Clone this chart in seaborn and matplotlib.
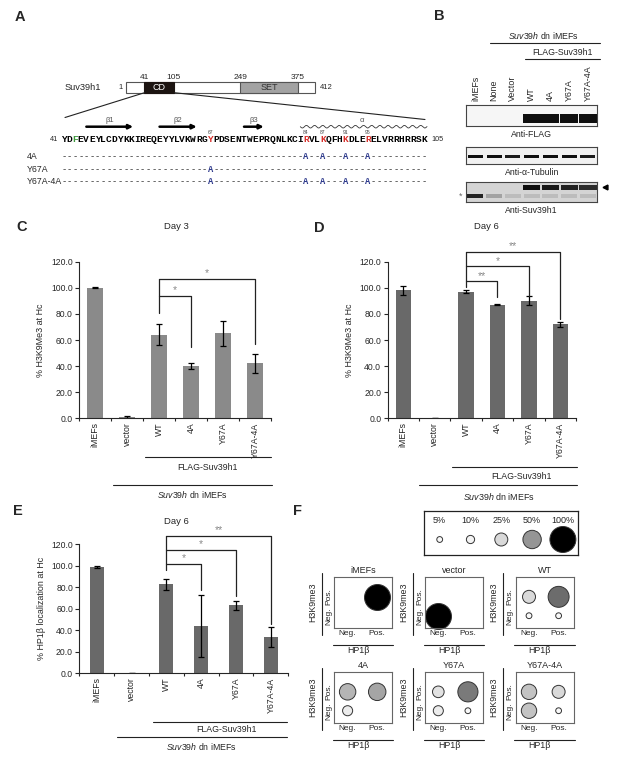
import numpy as np
import pandas as pd
import matplotlib
matplotlib.use("Agg")
import matplotlib.pyplot as plt
import seaborn as sns

# ---------------- values ----------------
groups = ["iMEFs", "vector", "WT", "4A", "Y67A", "Y67A-4A"]

h3k9_day3 = [100.0, 0.8, 64.0, 40.0, 65.0, 42.0]
h3k9_day3_err = [0.3, 0.8, 8.0, 2.0, 9.5, 7.0]
h3k9_day6 = [98.0, 0.0, 97.0, 87.0, 90.0, 72.0]
h3k9_day6_err = [3.5, 0.0, 1.0, 0.5, 3.5, 2.0]
hp1_day6 = [99.0, 0.0, 82.5, 44.0, 63.0, 33.5]
hp1_day6_err = [1.0, 0.0, 5.4, 28.5, 4.0, 9.3]

# western blot lanes and band strength (0 = no band)
lanes = ["iMEFs", "None", "Vector", "WT", "4A", "Y67A", "Y67A-4A"]
flag_band = [0, 0, 0, 1.0, 1.0, 1.0, 1.0]
tubulin_band = [1.0, 1.0, 0.95, 1.0, 1.0, 1.0, 0.95]
suv_band = [0, 0, 0, 1.0, 0.95, 0.9, 0.85]
suv_lower_band = [0.9, 0.25, 0.12, 0.12, 0.12, 0.12, 0.12]

# Suv39h1 domain map
protein_len = 412
cd_domain = (41, 105)
set_domain = (249, 375)

# chromodomain sequence, residues 41-105
cd_seq = "YDFEVEYLCDYKKIREQEYYLVKWRGYPDSENTWEPRQNLKCIRVLKQFHKDLERELVRRHRRSK"
seq_start = 41
red_sites = [67, 84, 87, 91, 95]
green_sites = [43]
strands = [("β1", 45, 53.3), ("β2", 58, 64.6), ("β3", 73, 76.5)]
helix = (83, 105.5)
mutants = ["4A", "Y67A", "Y67A-4A"]
mutant_sites = [[84, 87, 91, 95], [67], [67, 84, 87, 91, 95]]

# panel F: % of cells in each H3K9me3 x HP1b class
dot_groups = ["iMEFs", "vector", "WT", "4A", "Y67A", "Y67A-4A"]
pct_h3neg_hp1neg = [0, 100, 5, 15, 15, 35]
pct_h3neg_hp1pos = [0, 0, 5, 0, 5, 5]
pct_h3pos_hp1neg = [0, 0, 25, 40, 20, 35]
pct_h3pos_hp1pos = [100, 0, 65, 45, 60, 25]
legend_pct = [5, 10, 25, 50, 100]

# ---------------- style ----------------
sns.set_style("ticks")
plt.rcParams["font.family"] = ["Liberation Sans", "DejaVu Sans"]
plt.rcParams["mathtext.fontset"] = "custom"
plt.rcParams["mathtext.rm"] = "Liberation Sans"
plt.rcParams["mathtext.it"] = "Liberation Sans:italic"
plt.rcParams["axes.linewidth"] = 0.8

SUV_DN = r"$\mathit{Suv39h}$ dn iMEFs"
LINE = "#222222"
W, H = 617, 765
fig = plt.figure(figsize=(W / 100, H / 100), dpi=100)


def px_axes(l, t, r, b):
    # axes from pixel box (left, top, right, bottom)
    return fig.add_axes([l / W, 1 - b / H, (r - l) / W, (b - t) / H])


# overlay in pixel coordinates for labels and guide lines
ov = px_axes(0, 0, W, H)
ov.set_xlim(0, W)
ov.set_ylim(H, 0)
ov.axis("off")
ov.set_zorder(10)


def hline(x0, x1, y, lw=0.8, color=LINE):
    ov.plot([x0, x1], [y, y], color=color, lw=lw)


for lab, x, y in [("A", 20, 17), ("B", 439, 16), ("C", 22, 227),
                  ("D", 319, 228), ("E", 18, 511), ("F", 298, 511)]:
    ov.text(x, y, lab, fontsize=10.5, fontweight="bold", ha="center", va="center")

# ---------------- panel A ----------------
ax_dom = px_axes(126, 81.7, 315, 92.7)
ax_dom.set_xlim(1, protein_len)
ax_dom.set_ylim(0, 1)
ax_dom.axis("off")
ax_dom.barh(0.5, protein_len - 1, left=1, height=1, color="white",
            edgecolor="#555555", lw=0.8, clip_on=False)
ax_dom.barh(0.5, cd_domain[1] - cd_domain[0], left=cd_domain[0], height=1,
            color="#1c1411", edgecolor="#1c1411", lw=0.8, clip_on=False)
ax_dom.barh(0.5, set_domain[1] - set_domain[0], left=set_domain[0], height=1,
            color="#a3a3a3", edgecolor="#555555", lw=0.8, clip_on=False)
ax_dom.text(np.mean(cd_domain), 0.45, "CD", color="white", ha="center", va="center", fontsize=6.5)
ax_dom.text(np.mean(set_domain), 0.45, "SET", color="#333333", ha="center", va="center", fontsize=6.5)
for v in [cd_domain[0], cd_domain[1], set_domain[0], set_domain[1]]:
    ax_dom.text(v, 1.08, str(v), ha="center", va="bottom", fontsize=6)
ax_dom.text(-6, 0.5, "1", ha="right", va="center", fontsize=5.5)
ax_dom.text(protein_len + 10, 0.5, str(protein_len), ha="left", va="center", fontsize=5.5)
ov.text(101, 87.5, "Suv39h1", ha="right", va="center", fontsize=6.7)
ov.plot([144.5, 65], [92.7, 117.5], color=LINE, lw=0.8)
ov.plot([174.3, 425], [92.7, 119.5], color=LINE, lw=0.8)

ax_seq = px_axes(61, 112, 427, 190)
ax_seq.set_xlim(seq_start - 0.5, seq_start + len(cd_seq) - 0.5)
ax_seq.set_ylim(190, 112)
ax_seq.axis("off")
seq_y = 139
for i, aa in enumerate(cd_seq):
    pos = seq_start + i
    col = "#d9302b" if pos in red_sites else ("#3d9a3d" if pos in green_sites else "black")
    ax_seq.text(pos, seq_y, aa, ha="center", va="center", color=col,
                fontsize=6.8, family="Liberation Mono", fontweight="bold")
for pos in red_sites:
    ax_seq.text(pos, 132.6, str(pos), ha="center", va="center", fontsize=3.6, color="#444444")
for name, a, b in strands:
    ax_seq.annotate("", xy=(b, 126.7), xytext=(a, 126.7),
                    arrowprops=dict(arrowstyle="-|>", lw=1.8, color="black", mutation_scale=6,
                                    shrinkA=0, shrinkB=0))
    ax_seq.text((a + b) / 2, 120.5, name, ha="center", va="center", fontsize=5.5, color="#555555")
hx = np.linspace(helix[0], helix[1], 400)
ax_seq.plot(hx, 126.7 + 1.3 * np.sin(2 * np.pi * (hx - helix[0]) / 1.45), color="#333333", lw=0.6,
            clip_on=False)
ax_seq.text(94, 120.5, "α", ha="center", va="center", fontsize=5.5, color="#555555")
ov.text(54, seq_y, "41", ha="center", va="center", fontsize=5.2)
ov.text(437, seq_y, "105", ha="center", va="center", fontsize=5.2)

for row, (name, sites) in enumerate(zip(mutants, mutant_sites)):
    y = [156.7, 169.3, 181.7][row]
    ov.text(27, y, name, ha="left", va="center", fontsize=6.3)
    for i in range(len(cd_seq)):
        pos = seq_start + i
        if pos in sites:
            ax_seq.text(pos, y, "A", ha="center", va="center", color="#2e3a8c",
                        fontsize=6.3, family="Liberation Mono", fontweight="bold")
        else:
            ax_seq.text(pos, y, "-", ha="center", va="center", color="#333333",
                        fontsize=6.3, family="Liberation Mono")

# ---------------- panel B ----------------
ov.text(543, 35, SUV_DN, ha="center", va="center", fontsize=6.3)
hline(490, 600, 42.7)
ov.text(562.7, 52.7, "FLAG-Suv39h1", ha="center", va="center", fontsize=6.3)
hline(525, 600, 59.3)

blots = [
    ("Anti-FLAG", (105, 126), "#f6f6f6", [(flag_band, 0.37, 0.42, 0.96)]),
    ("Anti-α-Tubulin", (147.3, 164), "#f1f1f1", [(tubulin_band, 0.44, 0.22, 0.8)]),
    ("Anti-Suv39h1", (181.7, 202.3), "#d4d4d4", [(suv_band, 0.73, 0.22, 0.92),
                                                 (suv_lower_band, 0.3, 0.22, 0.85)]),
]
for k, (title, (t, b), face, bands) in enumerate(blots):
    ax = px_axes(466, t, 597.3, b)
    ax.set_facecolor(face)
    ax.set_xlim(-0.5, len(lanes) - 0.5)
    ax.set_ylim(0, 1)
    for spine in ax.spines.values():
        spine.set_visible(True)
        spine.set_color("#444444")
        spine.set_linewidth(0.8)
    for vals, center, height, width in bands:
        cols = [(0.06, 0.06, 0.06, v) for v in vals]
        ax.bar(range(len(lanes)), height, bottom=center - height / 2, width=width,
               color=cols, edgecolor="none", linewidth=0)
    ax.set_yticks([])
    if k == 0:
        ax.xaxis.tick_top()
        ax.set_xticks(range(len(lanes)))
        ax.set_xticklabels(lanes, rotation=90, fontsize=6.4)
        ax.tick_params(axis="x", length=0, pad=3)
    else:
        ax.set_xticks([])
    ov.text(531.7, b + 8.5, title, ha="center", va="center", fontsize=6.3)
ov.plot([604.5], [186.5], marker="<", color="black", markersize=3.5)
ov.text(461, 196.5, "*", ha="center", va="center", fontsize=6.5, color="#666666")

# ---------------- panels C, D, E ----------------


def bar_panel(ax, vals, errs, color, width, ylabel):
    sns.barplot(x=groups, y=vals, color=color, width=width, saturation=1,
                errorbar=None, linewidth=0, ax=ax)
    ax.errorbar(range(len(groups)), vals, yerr=errs, fmt="none", ecolor="black",
                elinewidth=0.9, capsize=2.2, capthick=0.9)
    ax.set_xlim(-0.5, len(groups) - 0.5)
    ax.set_ylim(0, 120)
    ax.set_yticks(range(0, 121, 20))
    ax.set_yticklabels([f"{v:.1f}" for v in range(0, 121, 20)])
    ax.set_xticks(np.arange(-0.5, len(groups), 1), minor=True)
    sns.despine(ax=ax)
    ax.tick_params(axis="x", which="major", length=0, labelrotation=90, labelsize=6.3, pad=3)
    ax.tick_params(axis="x", which="minor", length=2, width=0.8)
    ax.tick_params(axis="y", length=3, width=0.8, labelsize=6.2, pad=1.5)
    ax.set_xlabel("")
    ax.set_ylabel(ylabel, fontsize=6.4, labelpad=4)


def sig_brackets(ax, base, base_low, marks):
    top = max(m[1] for m in marks)
    ax.plot([base, base], [base_low, top], color=LINE, lw=0.9, clip_on=False)
    for idx, h, low, star in marks:
        ax.plot([base, idx, idx], [h, h, low], color=LINE, lw=0.9, clip_on=False)
        ax.text((base + idx) / 2, h + 0.5, star, ha="center", va="bottom",
                color="#888888", fontsize=7.5, clip_on=False)


# C
ax_c = px_axes(79, 261.7, 271, 418.3)
bar_panel(ax_c, h3k9_day3, h3k9_day3_err, "#8a8a8a", 0.47, "% H3K9Me3 at Hc")
sig_brackets(ax_c, 2, 80.5, [(3, 94, 55, "*"), (5, 107, 57, "*")])
ov.text(176.7, 226.7, "Day 3", ha="center", va="center", fontsize=6.8)
hline(145, 270.7, 456.7)
ov.text(208, 467, "FLAG-Suv39h1", ha="center", va="center", fontsize=6.3)
hline(113, 272, 485)
ov.text(192, 494.5, SUV_DN, ha="center", va="center", fontsize=6.3)

# D (its group caption sits right above panel F)
ax_d = px_axes(387.5, 261.7, 576, 418.3)
bar_panel(ax_d, h3k9_day6, h3k9_day6_err, "#696969", 0.49, "% H3K9Me3 at Hc")
sig_brackets(ax_d, 2, 100.5, [(3, 105, 93, "**"), (4, 116.5, 94, "*"), (5, 127.5, 76, "**")])
ov.text(486, 226.7, "Day 6", ha="center", va="center", fontsize=6.8)
hline(451.7, 576.7, 466.7)
ov.text(521.7, 476.7, "FLAG-Suv39h1", ha="center", va="center", fontsize=6.3)
hline(419, 576.7, 485)
ov.text(499, 496, SUV_DN, ha="center", va="center", fontsize=6.4)

# E
ax_e = px_axes(79.3, 544, 288.3, 673.3)
bar_panel(ax_e, hp1_day6, hp1_day6_err, "#696969", 0.4, "% HP1β localization at Hc")
sig_brackets(ax_e, 2, 96, [(3, 101.5, 77, "*"), (4, 114.5, 72, "*"), (5, 127.5, 46, "**")])
ov.text(176.7, 521.7, "Day 6", ha="center", va="center", fontsize=6.8)
hline(153, 286.7, 722.3)
ov.text(226.7, 730, "FLAG-Suv39h1", ha="center", va="center", fontsize=6.3)
hline(117, 286.7, 737.3)
ov.text(201.7, 746.7, SUV_DN, ha="center", va="center", fontsize=6.3)

# ---------------- panel F ----------------
DOT_SIZES = (0, 350)


def dot_plot(ax, df):
    sns.scatterplot(data=df, x="x", y="y", size="pct", sizes=DOT_SIZES, size_norm=(0, 100),
                    hue="pct", palette="Greys", hue_norm=(0, 100), edgecolor="#333333",
                    linewidth=0.7, legend=False, ax=ax)
    for coll in ax.collections:
        coll.set_clip_on(False)


ax_leg = px_axes(424.3, 510.7, 578.3, 555)
leg_df = pd.DataFrame({"x": range(len(legend_pct)), "y": [0.35] * len(legend_pct),
                       "pct": legend_pct})
dot_plot(ax_leg, leg_df)
ax_leg.set_xlim(-0.5, len(legend_pct) - 0.5)
ax_leg.set_ylim(0, 1)
ax_leg.set_xticks([])
ax_leg.set_yticks([])
ax_leg.set_xlabel("")
ax_leg.set_ylabel("")
for spine in ax_leg.spines.values():
    spine.set_visible(True)
    spine.set_color("#222222")
    spine.set_linewidth(0.9)
for i, p in enumerate(legend_pct):
    ax_leg.text(i, 0.77, f"{p}%", ha="center", va="center", fontsize=6.5)

col_left = [334.3, 425, 515.7]
row_top = [577, 672]
box_w, box_h = 58, 51
for k, name in enumerate(dot_groups):
    r, c = divmod(k, 3)
    left, top = col_left[c], row_top[r]
    right, bottom = left + box_w, top + box_h
    ax = px_axes(left, top, right, bottom)
    df = pd.DataFrame({
        "x": [0, 1, 0, 1],
        "y": [0, 0, 1, 1],
        "pct": [pct_h3neg_hp1neg[k], pct_h3neg_hp1pos[k], pct_h3pos_hp1neg[k], pct_h3pos_hp1pos[k]],
    })
    dot_plot(ax, df[df["pct"] > 0])
    ax.set_xlim(-0.45, 1.51)
    ax.set_ylim(-0.65, 2.05)
    ax.set_xticks([0, 1])
    ax.set_xticklabels(["Neg.", "Pos."], fontsize=6)
    ax.set_yticks([0, 1])
    ax.set_yticklabels(["Neg.", "Pos."], fontsize=6, rotation=90, va="center")
    ax.tick_params(length=0, pad=1.5)
    ax.set_xlabel("")
    ax.set_ylabel("")
    for spine in ax.spines.values():
        spine.set_visible(True)
        spine.set_color("#666666")
        spine.set_linewidth(0.8)
    ov.text((left + right) / 2, top - 2, name, ha="center", va="bottom", fontsize=6.5)
    ov.plot([left - 12.5, left - 12.5], [top - 4, bottom + 7], color=LINE, lw=0.8)
    ov.text(left - 21.5, (top + bottom) / 2, "H3K9me3", rotation=90, ha="center", va="center",
            fontsize=6.4)
    hline(left - 1.5, right + 1, bottom + 16.5)
    ov.text(left + 24, bottom + 22.5, "HP1β", ha="center", va="center", fontsize=6.4)

fig.savefig("out.png", dpi=100)
